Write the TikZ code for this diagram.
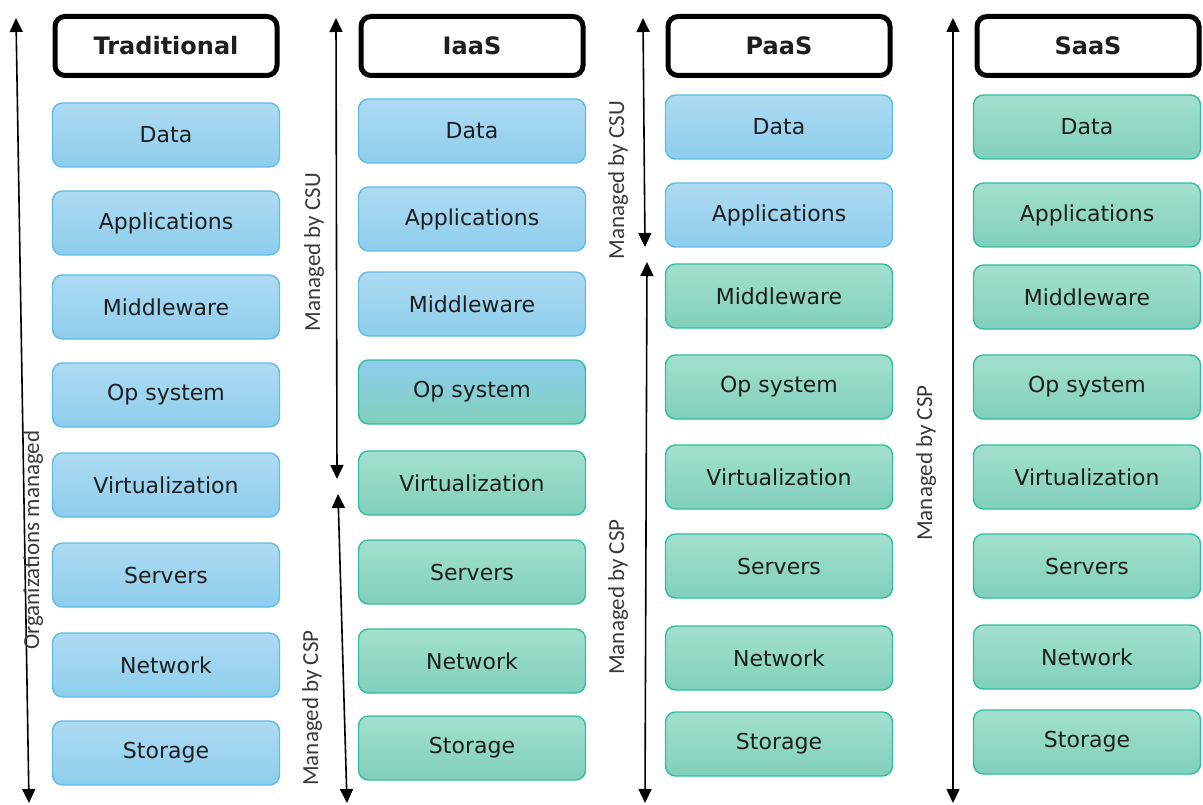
\documentclass[tikz,border=0pt]{standalone}
\usepackage{fontspec}
\setmainfont{DejaVu Sans}
\newfontfamily\labelfont{Carlito}
\usetikzlibrary{arrows.meta}
\definecolor{layerink}{HTML}{1E1E1E}
\definecolor{scopeink}{HTML}{3A3A3A}
\definecolor{csutop}{HTML}{AEDBF2}
\definecolor{csubottom}{HTML}{8DCDED}
\definecolor{csuline}{HTML}{5DBDE6}
\definecolor{csptop}{HTML}{A3DFCF}
\definecolor{cspbottom}{HTML}{80D0BB}
\definecolor{cspline}{HTML}{2FBE9E}

\begin{document}
\begin{tikzpicture}[x=1pt,y=-1pt,
  text=layerink,
  layerbox/.style={line width=1.4pt,rounded corners=10pt,minimum width=227pt,minimum height=64pt,inner sep=0pt,align=center,font=\fontsize{22}{26}\selectfont},
  csubox/.style={layerbox,draw=csuline,top color=csutop,bottom color=csubottom},
  cspbox/.style={layerbox,draw=cspline,top color=csptop,bottom color=cspbottom},
  mixbox/.style={layerbox,draw=cspline,top color=csubottom,bottom color=cspbottom},
  tierhead/.style={draw=black,fill=white,line width=5pt,rounded corners=10pt,minimum width=222pt,minimum height=59pt,inner sep=0pt,font=\fontsize{24}{28}\selectfont\bfseries},
  scopelabel/.style={rotate=90,text=scopeink,inner sep=0pt,font=\labelfont\fontsize{23}{27}\selectfont},
  scopearrow/.style={{Triangle[length=14pt,width=13pt]}-{Triangle[length=14pt,width=13pt]},draw=black,line width=1.6pt}
]
\path[use as bounding box] (0,0) rectangle (1203,805);

% Traditional stack
\node[tierhead] (trad) at (166,46) {Traditional};
\node[csubox] (tdata) at (166,135) {Data};
\node[csubox] (tapps) at (166,223) {Applications};
\node[csubox] (tmid) at (166,307) {Middleware};
\node[csubox] (tos) at (166,395) {Op system};
\node[csubox] (tvirt) at (166,485) {Virtualization};
\node[csubox] (tserv) at (166,575) {Servers};
\node[csubox] (tnet) at (166,665) {Network};
\node[csubox] (tstor) at (166,753) {Storage};

% IaaS stack
\node[tierhead] (iaas) at (472,46) {IaaS};
\node[csubox] (idata) at (472,131) {Data};
\node[csubox] (iapps) at (472,219) {Applications};
\node[csubox] (imid) at (472,304) {Middleware};
\node[mixbox] (ios) at (472,392) {Op system};
\node[cspbox] (ivirt) at (472,483) {Virtualization};
\node[cspbox] (iserv) at (472,572) {Servers};
\node[cspbox] (inet) at (472,661) {Network};
\node[cspbox] (istor) at (472,748) {Storage};

% PaaS stack
\node[tierhead] (paas) at (779,46) {PaaS};
\node[csubox] (pdata) at (779,127) {Data};
\node[csubox] (papps) at (779,215) {Applications};
\node[cspbox] (pmid) at (779,296) {Middleware};
\node[cspbox] (pos) at (779,387) {Op system};
\node[cspbox] (pvirt) at (779,477) {Virtualization};
\node[cspbox] (pserv) at (779,566) {Servers};
\node[cspbox] (pnet) at (779,658) {Network};
\node[cspbox] (pstor) at (779,744) {Storage};

% SaaS stack
\node[tierhead] (saas) at (1088,46) {SaaS};
\node[cspbox] (sdata) at (1087,127) {Data};
\node[cspbox] (sapps) at (1087,215) {Applications};
\node[cspbox] (smid) at (1087,297) {Middleware};
\node[cspbox] (sos) at (1087,387) {Op system};
\node[cspbox] (svirt) at (1087,477) {Virtualization};
\node[cspbox] (sserv) at (1087,566) {Servers};
\node[cspbox] (snet) at (1087,657) {Network};
\node[cspbox] (sstor) at (1087,742) {Storage};

% Ends of the responsibility arrows
\coordinate (orgtop) at (16,18);
\coordinate (orgbot) at (29,803);
\coordinate (icsutop) at (336,18);
\coordinate (icsubot) at (337,479);
\coordinate (icsptop) at (338,494);
\coordinate (icspbot) at (347,803);
\coordinate (pcsutop) at (643,18);
\coordinate (pcsubot) at (645,247);
\coordinate (pcsptop) at (647,262);
\coordinate (pcspbot) at (645,803);
\coordinate (scsptop) at (953,18);
\coordinate (scspbot) at (953,803);

% Responsibility arrows
\draw[scopearrow] (orgtop) -- (orgbot);
\draw[scopearrow] (icsutop) -- (icsubot);
\draw[scopearrow] (icsptop) -- (icspbot);
\draw[scopearrow] (pcsutop) -- (pcsubot);
\draw[scopearrow] (pcsptop) -- (pcspbot);
\draw[scopearrow] (scsptop) -- (scspbot);

% Rotated scope labels
\node[scopelabel] (orglabel) at (33,540) {Organizations managed};
\node[scopelabel] (icsulabel) at (314,252) {Managed by CSU};
\node[scopelabel] (icsplabel) at (312,708) {Managed by CSP};
\node[scopelabel] (pcsulabel) at (618,180) {Managed by CSU};
\node[scopelabel] (pcsplabel) at (618,597) {Managed by CSP};
\node[scopelabel] (scsplabel) at (926,463) {Managed by CSP};

\end{tikzpicture}
\end{document}
